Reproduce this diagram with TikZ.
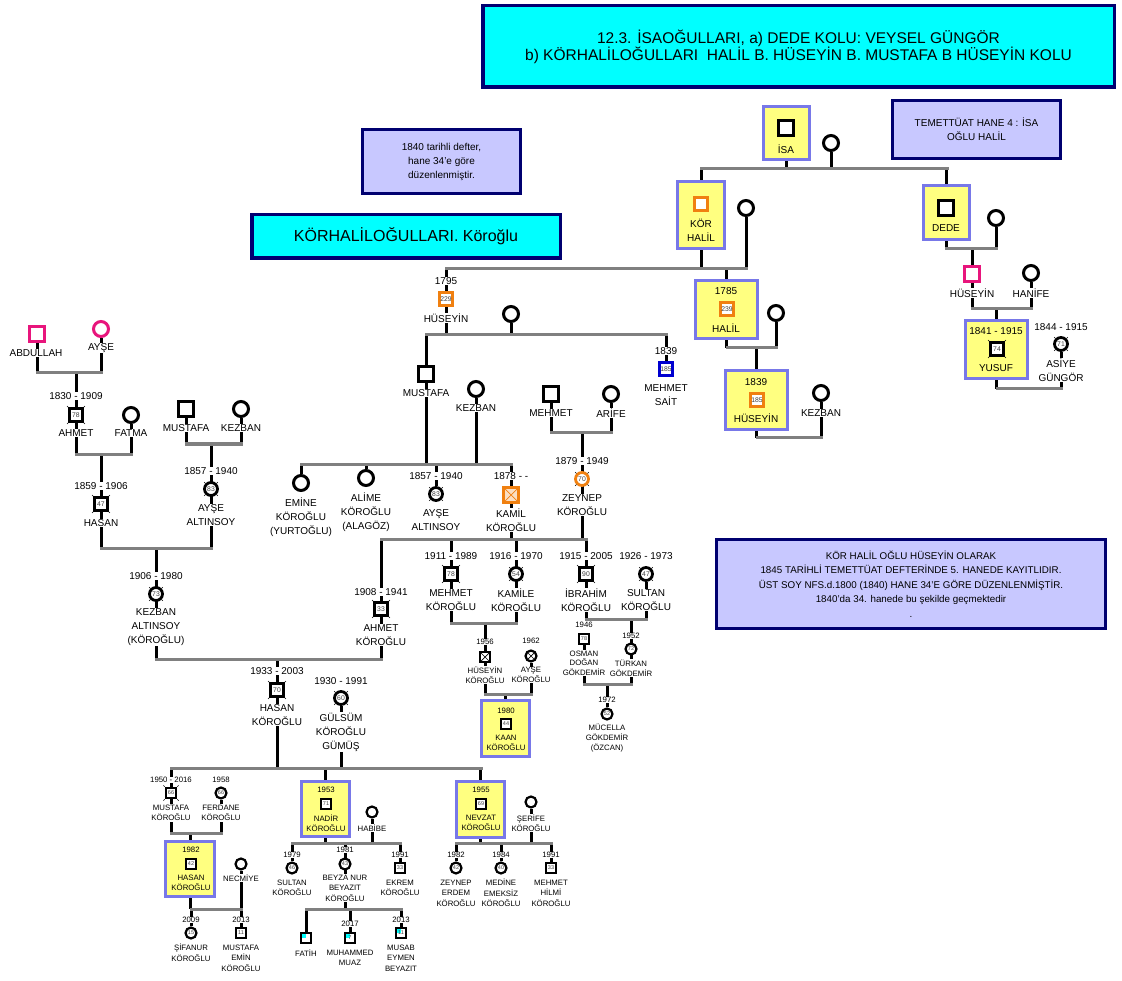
\documentclass[tikz,border=0pt]{standalone}
\usepackage{fontspec}
\setmainfont{Liberation Sans}
\usetikzlibrary{calc}
\pgfdeclarelayer{bg}
\pgfsetlayers{bg,main}
\definecolor{lgray}{HTML}{808080}
\definecolor{yel}{HTML}{FFFF80}
\definecolor{lavb}{HTML}{7878E8}
\definecolor{lavf}{HTML}{C8C8FF}
\definecolor{navy}{HTML}{000070}
\definecolor{cyn}{HTML}{00FFFF}
\definecolor{orng}{HTML}{F08010}
\definecolor{pnk}{HTML}{E8157C}
\definecolor{blu}{HTML}{0000D0}
\definecolor{numc}{HTML}{404040}
\newcommand\fM{\fontsize{10}{14}\selectfont}
\newcommand\fS{\fontsize{7.8}{10.5}\selectfont}
\newcommand\fR{\fontsize{7.8}{9.6}\selectfont}
\newcommand\fN{\fontsize{6.8}{7}\selectfont}
\newcommand\fNs{\fontsize{5.5}{6}\selectfont}
\newcommand\fT{\fontsize{15.5}{17}\selectfont}
\newcommand\fK{\fontsize{16}{18}\selectfont}
\newcommand\fB{\fontsize{10}{14}\selectfont}
\begin{document}
\begin{tikzpicture}[x=1pt,y=-1pt,
  st/.style={black,line width=3pt},
  hl/.style={lgray,line width=3pt,line cap=rect},
  tick/.style={black,line width=0.6pt},
  sym/.style={draw,fill=white,inner sep=0pt,text=numc,font=\fN},
  sq/.style={sym,rectangle,minimum size=15pt,line width=3pt},
  ci/.style={sym,circle,minimum size=15pt,line width=3pt},
  sqn/.style={sym,rectangle,minimum size=12.5pt,line width=2.8pt},
  cin/.style={sym,circle,minimum size=13pt,line width=2.8pt},
  sqs/.style={sym,rectangle,minimum size=10.5pt,line width=2.2pt,font=\fNs},
  cis/.style={sym,circle,minimum size=11pt,line width=2.2pt,font=\fNs},
  nm/.style={fill=white,inner sep=0.6pt,align=center,font=\fM},
  nms/.style={nm,font=\fS},
  nmr/.style={nm,font=\fR},
  ybox/.style={draw=lavb,fill=yel,line width=3pt,rectangle,inner sep=0pt},
  note/.style={draw=navy,fill=lavf,line width=3pt,rectangle,inner sep=0pt,align=center,font=\fB},
  cbox/.style={draw=navy,fill=cyn,line width=3.5pt,rectangle,inner sep=0pt,align=center},
  xmark/.style={path picture={\draw[line width=0.7pt,draw=#1] (path picture bounding box.north west) -- (path picture bounding box.south east) (path picture bounding box.north east) -- (path picture bounding box.south west);}},
  xmark/.default=black,
  cyancorner/.style={path picture={\fill[cyn] (path picture bounding box.north west) rectangle ++(5,5);}}
]
\useasboundingbox (0,0) rectangle (1122,981);
% family line coordinates
\coordinate (fisaL) at (701,169); \coordinate (fisaR) at (947,169);
\coordinate (fkhL) at (446,269); \coordinate (fkhR) at (746,269);
\coordinate (fdeL) at (946,249); \coordinate (fdeR) at (996,249);
\coordinate (fhrL) at (972,309); \coordinate (fhrR) at (1031,309);
\coordinate (fyuL) at (997,389); \coordinate (fyuR) at (1061,389);
\coordinate (fhaL) at (727,348); \coordinate (fhaR) at (776,348);
\coordinate (f39L) at (757,438); \coordinate (f39R) at (821,438);
\coordinate (fhuL) at (426,335); \coordinate (fhuR) at (666,335);
\coordinate (fmaL) at (551,433); \coordinate (fmaR) at (611,433);
\coordinate (fmuL) at (301,464); \coordinate (fmuR) at (511,464);
\coordinate (fkzL) at (381,539); \coordinate (fkzR) at (586,539);
\coordinate (fmkL) at (451,623); \coordinate (fmkR) at (516,623);
\coordinate (fayL) at (485,694); \coordinate (fayR) at (531,694);
\coordinate (fibL) at (586,619); \coordinate (fibR) at (646,619);
\coordinate (fotL) at (584,684); \coordinate (fotR) at (631,684);
\coordinate (fabL) at (37,373); \coordinate (fabR) at (101,373);
\coordinate (fahL) at (76,454); \coordinate (fahR) at (131,454);
\coordinate (fmlL) at (186,444); \coordinate (fmlR) at (241,444);
\coordinate (fh2L) at (101,548); \coordinate (fh2R) at (211,548);
\coordinate (fhkL) at (156,659); \coordinate (fhkR) at (381,659);
\coordinate (fbL) at (171,768); \coordinate (fbR) at (481,768);
\coordinate (fmfL) at (171,833); \coordinate (fmfR) at (221,833);
\coordinate (fhnL) at (191,909); \coordinate (fhnR) at (241,909);
\coordinate (fndL) at (292,843); \coordinate (fndR) at (400,843);
\coordinate (fbzL) at (306,909); \coordinate (fbzR) at (401,909);
\coordinate (fnsL) at (456,843); \coordinate (fnsR) at (551,843);

% boxes
\node[cbox,minimum width=631.5,minimum height=81.5,font=\fT] (title) at (798.5,46.5) {12.3. İSAOĞULLARI, a) DEDE KOLU: VEYSEL GÜNGÖR\\b) KÖRHALİLOĞULLARI\ \ HALİL B. HÜSEYİN B. MUSTAFA B HÜSEYİN KOLU};
\node[note,minimum width=158,minimum height=64] (n1840) at (441.5,162) {1840 tarihli defter,\\hane 34'e göre\\düzenlenmiştir.};
\node[cbox,minimum width=308.5,minimum height=43.5,font=\fK] (kbox) at (406,236.5) {KÖRHALİLOĞULLARI. Köroğlu};
\node[note,minimum width=168,minimum height=58] (ntem) at (976.5,129.5) {TEMETTÜAT HANE 4 : İSA\\OĞLU HALİL};
\node[note,minimum width=389,minimum height=89,font=\fontsize{9.8}{14.5}\selectfont] (nkor) at (911,584) {KÖR HALİL OĞLU HÜSEYİN OLARAK\\1845 TARİHLİ TEMETTÜAT DEFTERİNDE 5. HANEDE KAYITLIDIR.\\ÜST SOY NFS.d.1800 (1840) HANE 34'E GÖRE DÜZENLENMİŞTİR.\\1840'da 34. hanede bu şekilde geçmektedir\\.};

% Isa
\node[ybox,minimum width=46,minimum height=53] (isab) at (786.5,133) {};
\node[sq] (isa) at (786,128) {};
\node[nm,fill=none] (isal) at (786,149) {İSA};
\node[ci] (isaw) at (831,143) {};
% Kor Halil
\node[ybox,minimum width=47,minimum height=67] (khb) at (701,215) {};
\node[sq,draw=orng,minimum size=13] (kh) at (701,204) {};
\node[nm,fill=none] (khl) at (701,230) {KÖR\\HALİL};
\node[ci] (khw) at (746,208) {};
% Dede
\node[ybox,minimum width=46,minimum height=54] (dedeb) at (946.5,212.5) {};
\node[sq] (dede) at (946,208) {};
\node[nm,fill=none] (dedel) at (946,228) {DEDE};
\node[ci] (dedew) at (996,218) {};
% Huseyin (right)
\node[sq,draw=pnk] (husr) at (972,274) {};
\node[nm] (husrl) at (972,293) {HÜSEYİN};
\node[ci] (hanife) at (1031,273) {};
\node[nm] (hanifel) at (1031,293) {HANİFE};
% Yusuf
\node[ybox,minimum width=62,minimum height=58] (yusb) at (996.5,349.5) {};
\node[nm,fill=none] (yusy) at (996,331) {1841 - 1915};
\node[sqn] (yus) at (997,349) {74};
\node[nm,fill=none] (yusl) at (996,368) {YUSUF};
\node[nm] (asiy) at (1061,327) {1844 - 1915};
\node[cin] (asi) at (1061,344) {71};
\node[nm] (asil) at (1061,370) {ASİYE\\GÜNGÖR};
% Halil 1785
\node[ybox,minimum width=62,minimum height=58] (halb) at (726.5,309.5) {};
\node[nm,fill=none] (haly) at (726,291) {1785};
\node[sqn,draw=orng,minimum size=13.5] (hal) at (727,309) {239};
\node[nm,fill=none] (hall) at (726,328) {HALİL};
\node[ci] (halw) at (776,313) {};
% Huseyin 1839
\node[ybox,minimum width=62,minimum height=59] (h39b) at (756.5,400) {};
\node[nm,fill=none] (h39y) at (756,382) {1839};
\node[sqn,draw=orng,minimum size=13.5] (h39) at (757,400) {185};
\node[nm,fill=none] (h39l) at (756,418) {HÜSEYİN};
\node[ci] (kezr) at (821,393) {};
\node[nm] (kezrl) at (821,413) {KEZBAN};
% Huseyin 1795
\node[nm] (h95y) at (446,281) {1795};
\node[sqn,draw=orng,minimum size=13.5] (h95) at (446,299) {229};
\node[nm] (h95l) at (446,318) {HÜSEYİN};
\node[ci] (h95w) at (511,314) {};
% Mustafa, Kezban
\node[sq] (mus) at (426,374) {};
\node[nm] (musl) at (426,393) {MUSTAFA};
\node[ci] (kez) at (476,389) {};
\node[nm] (kezl) at (476,408) {KEZBAN};
% Mehmet Sait
\node[nm] (msy) at (666,351) {1839};
\node[sqn,draw=blu,minimum size=13.5] (ms) at (666,369) {185};
\node[nm] (msl) at (666,395) {MEHMET\\SAİT};
% Mehmet, Arife
\node[sq] (meh) at (551,394) {};
\node[nm] (mehl) at (551,413) {MEHMET};
\node[ci] (ari) at (611,394) {};
\node[nm] (aril) at (611,413) {ARİFE};
% Zeynep
\node[nm] (zeyy) at (582,461) {1879 - 1949};
\node[cin,draw=orng] (zey) at (582,479) {70};
\node[nm] (zeyl) at (582,505) {ZEYNEP\\KÖROĞLU};
% children of Mustafa
\node[ci] (emi) at (301,483) {};
\node[nm] (emil) at (301,517.5) {EMİNE\\KÖROĞLU\\(YURTOĞLU)};
\node[ci] (ali) at (366,478) {};
\node[nm] (alil) at (366,512) {ALİME\\KÖROĞLU\\(ALAGÖZ)};
\node[nm] (ay2y) at (436,476) {1857 - 1940};
\node[cin] (ay2) at (436,494) {83};
\node[nm] (ay2l) at (436,520) {AYŞE\\ALTINSOY};
\node[nm] (kamy) at (511,476) {1878 - -};
\node[sq,draw=orng,fill=orng!25,xmark=orng] (kam) at (511,495) {};
\node[nm] (kaml) at (511,520) {KAMİL\\KÖROĞLU};
% children of Kamil + Zeynep
\node[nm] (ahky) at (381,592) {1908 - 1941};
\node[sqn] (ahk) at (381,609) {33};
\node[nm] (ahkl) at (381,635) {AHMET\\KÖROĞLU};
\node[nm] (mky) at (451,556) {1911 - 1989};
\node[sqn] (mk) at (451,574) {78};
\node[nm] (mkl) at (451,600) {MEHMET\\KÖROĞLU};
\node[nm] (kmly) at (516,556) {1916 - 1970};
\node[cin] (kml) at (516,574) {54};
\node[nm] (kmll) at (516,600) {KAMİLE\\KÖROĞLU};
\node[nm] (iby) at (586,556) {1915 - 2005};
\node[sqn] (ib) at (586,574) {90};
\node[nm] (ibl) at (586,600) {İBRAHİM\\KÖROĞLU};
\node[nm] (suy) at (646,556) {1926 - 1973};
\node[cin] (su) at (646,574) {47};
\node[nm] (sul) at (646,600) {SULTAN\\KÖROĞLU};
% Huseyin 1956, Ayse 1962, Kaan
\node[nmr] (h56y) at (485,642) {1956};
\node[sqs,xmark] (h56) at (485,657) {};
\node[nmr] (h56l) at (485,675) {HÜSEYİN\\KÖROĞLU};
\node[nmr] (a62y) at (531,641) {1962};
\node[cis,xmark] (a62) at (531,656) {};
\node[nmr] (a62l) at (531,675) {AYŞE\\KÖROĞLU};
\node[ybox,minimum width=48,minimum height=56] (kaanb) at (505.5,728.5) {};
\node[nmr,fill=none] (kaany) at (506,711) {1980};
\node[sqs] (kaan) at (506,724) {44};
\node[nmr,fill=none] (kaanl) at (506,743) {KAAN\\KÖROĞLU};
% Osman, Turkan, Mucella
\node[nmr] (osy) at (584,625) {1946};
\node[sqs] (os) at (584,639) {78};
\node[nmr] (osl) at (584,663) {OSMAN\\DOĞAN\\GÖKDEMİR};
\node[nmr] (tuy) at (631,636) {1952};
\node[cis] (tu) at (631,649) {72};
\node[nmr] (tul) at (631,668) {TÜRKAN\\GÖKDEMİR};
\node[nmr] (muy) at (607,700) {1972};
\node[cis] (mu) at (607,714) {52};
\node[nmr] (mul) at (607,738) {MÜCELLA\\GÖKDEMİR\\(ÖZCAN)};
% left family
\node[sq,draw=pnk] (abd) at (37,334) {};
\node[nm] (abdl) at (36,353) {ABDULLAH};
\node[ci,draw=pnk] (ays) at (101,329) {};
\node[nm] (aysl) at (101,348) {AYŞE};
\node[nm] (ahy) at (76,396) {1830 - 1909};
\node[sqn] (ah) at (76,415) {78};
\node[nm] (ahl) at (76,433) {AHMET};
\node[ci] (fat) at (131,415) {};
\node[nm] (fatl) at (131,433) {FATMA};
\node[nm] (hsy) at (101,486) {1859 - 1906};
\node[sqn] (hs) at (101,504) {47};
\node[nm] (hsl) at (101,523) {HASAN};
\node[sq] (musL) at (186,409) {};
\node[nm] (musLl) at (186,428) {MUSTAFA};
\node[ci] (kezL) at (241,409) {};
\node[nm] (kezLl) at (241,428) {KEZBAN};
\node[nm] (ay1y) at (211,471) {1857 - 1940};
\node[cin] (ay1) at (211,489) {83};
\node[nm] (ay1l) at (211,515) {AYŞE\\ALTINSOY};
\node[nm] (kay) at (156,576) {1906 - 1980};
\node[cin] (ka) at (156,594) {73};
\node[nm] (kal) at (156,627) {KEZBAN\\ALTINSOY\\(KÖROĞLU)};
\node[nm] (hky) at (277,671) {1933 - 2003};
\node[sqn] (hk) at (277,690) {70};
\node[nm] (hkl) at (277,715) {HASAN\\KÖROĞLU};
\node[nm] (guy) at (341,681) {1930 - 1991};
\node[cin] (gu) at (341,698) {60};
\node[nm] (gul) at (341,732) {GÜLSÜM\\KÖROĞLU\\GÜMÜŞ};
% bottom generations
\node[nms] (mby) at (171,780) {1950 - 2016};
\node[sqs] (mb) at (171,793) {66};
\node[nms] (mbl) at (171,813) {MUSTAFA\\KÖROĞLU};
\node[nms] (fey) at (221,780) {1958};
\node[cis] (fe) at (221,793) {66};
\node[nms] (fel) at (221,813) {FERDANE\\KÖROĞLU};
\node[ybox,minimum width=49,minimum height=55] (hbb) at (190,869) {};
\node[nms,fill=none] (hby) at (191,850) {1982};
\node[sqs] (hb) at (191,864) {42};
\node[nms,fill=none] (hbl) at (191,883) {HASAN\\KÖROĞLU};
\node[cis] (nec) at (241,864) {};
\node[nms] (necl) at (241,878) {NECMİYE};
\node[nms] (sify) at (191,920) {2009};
\node[cis] (sif) at (191,933) {15};
\node[nms] (sifl) at (191,952.5) {ŞİFANUR\\KÖROĞLU};
\node[nms] (mey) at (241,920) {2013};
\node[sqs] (me) at (241,933) {11};
\node[nms] (mel) at (241,958) {MUSTAFA\\EMİN\\KÖROĞLU};
\node[ybox,minimum width=48,minimum height=55] (nadb) at (325.5,809) {};
\node[nms,fill=none] (nady) at (326,790) {1953};
\node[sqs] (nad) at (326,804) {71};
\node[nms,fill=none] (nadl) at (326,823) {NADİR\\KÖROĞLU};
\node[cis] (hab) at (372,812) {};
\node[nms] (habl) at (372,828) {HABİBE};
\node[nms] (sby) at (292,855) {1979};
\node[cis] (sb) at (292,868) {46};
\node[nms] (sbl) at (292,888) {SULTAN\\KÖROĞLU};
\node[nms] (bzy) at (345,850) {1981};
\node[cis] (bz) at (345,864) {43};
\node[nms] (bzl) at (345,888) {BEYZA NUR\\BEYAZIT\\KÖROĞLU};
\node[nms] (eky) at (400,855) {1991};
\node[sqs] (ek) at (400,868) {33};
\node[nms] (ekl) at (400,888) {EKREM\\KÖROĞLU};
\node[sqs,cyancorner] (fa) at (306,938) {};
\node[nms] (fal) at (306,953) {FATİH};
\node[nms] (muzy) at (350,924) {2017};
\node[sqs,cyancorner] (muz) at (350,938) {7};
\node[nms] (muzl) at (350,958) {MUHAMMED\\MUAZ};
\node[nms] (msby) at (401,920) {2013};
\node[sqs,cyancorner] (msb) at (401,933) {11};
\node[nms] (msbl) at (401,958) {MUSAB\\EYMEN\\BEYAZIT};
\node[ybox,minimum width=48,minimum height=56] (nevb) at (480.5,809.5) {};
\node[nms,fill=none] (nevy) at (481,790) {1955};
\node[sqs] (nev) at (481,804) {69};
\node[nms,fill=none] (nevl) at (481,823) {NEVZAT\\KÖROĞLU};
\node[cis] (ser) at (531,802) {};
\node[nms] (serl) at (531,823) {ŞERİFE\\KÖROĞLU};
\node[nms] (zey2y) at (456,855) {1982};
\node[cis] (zey2) at (456,868) {42};
\node[nms] (zey2l) at (456,893) {ZEYNEP\\ERDEM\\KÖROĞLU};
\node[nms] (medy) at (501,855) {1984};
\node[cis] (med) at (501,868) {40};
\node[nms] (medl) at (501,893) {MEDİNE\\EMEKSİZ\\KÖROĞLU};
\node[nms] (mhy) at (551,855) {1991};
\node[sqs] (mh) at (551,868) {33};
\node[nms] (mhl) at (551,893) {MEHMET\\HİLMİ\\KÖROĞLU};

% deceased ticks
\foreach \n in {yus,asi,ahk,mk,kml,ib,su,zey,ay2,ah,hs,ay1,ka,hk,gu,mb}{
  \foreach \a in {45,135,225,315}{\draw[tick] (\n.\a) -- ++(-\a:1.8);}}

\begin{pgfonlayer}{bg}
\fill[white] (0,0) rectangle (1122,981);
% top right
\draw[st] (isab) -- (isab |- fisaL);
\draw[st] (isaw) -- (isaw |- fisaL);
\draw[st] (khb) -- (khb |- fisaL);
\draw[st] (dedeb) -- (dedeb |- fisaL);
\draw[st] (khb) -- (khb |- fkhL);
\draw[st] (khw) -- (khw |- fkhL);
\draw[st] (halb) -- (halb |- fkhL);
\draw[st] (h95 |- fkhL) -- (h95 |- fhuL);
\draw[st] (dedeb) -- (dedeb |- fdeL);
\draw[st] (dedew) -- (dedew |- fdeL);
\draw[st] (husr) -- (husr |- fdeL);
\draw[st] (husr) -- (husr |- fhrL);
\draw[st] (hanife) -- (hanife |- fhrL);
\draw[st] (yusb) -- (yusb |- fhrL);
\draw[st] (yusb) -- (yusb |- fyuL);
\draw[st] (asi) -- (asi |- fyuL);
\draw[st] (halb) -- (halb |- fhaL);
\draw[st] (halw) -- (halw |- fhaL);
\draw[st] (h39b) -- (h39b |- fhaL);
\draw[st] (h39b) -- (h39b |- f39L);
\draw[st] (kezr) -- (kezr |- f39L);
% middle
\draw[st] (h95w) -- (h95w |- fhuL);
\draw[st] (ms |- fhuL) -- (ms);
\draw[st] (mus |- fhuL) -- (mus |- fmuL);
\draw[st] (kez) -- (kez |- fmuL);
\draw[st] (meh) -- (meh |- fmaL);
\draw[st] (ari) -- (ari |- fmaL);
\draw[st] (zey |- fmaL) -- (zey |- fkzL);
\draw[st] (emi |- fmuL) -- (emi);
\draw[st] (ali |- fmuL) -- (ali);
\draw[st] (ay2 |- fmuL) -- (ay2);
\draw[st] (kam |- fmuL) -- (kam |- fkzL);
\draw[st] (ahk |- fkzL) -- (ahk |- fhkL);
\draw[st] (mk |- fkzL) -- (mk |- fmkL);
\draw[st] (kml |- fkzL) -- (kml |- fmkL);
\draw[st] (ib |- fkzL) -- (ib |- fibL);
\draw[st] (su) -- (su |- fibL);
\draw[st] (h56 |- fmkL) -- (h56 |- fayL);
\draw[st] (a62) -- (a62 |- fayL);
\draw[st] (kaanb) -- (kaanb |- fayL);
\draw[st] (tu |- fibL) -- (tu |- fotL);
\draw[st] (os) -- (os |- fotL);
\draw[st] (mu |- fotL) -- (mu);
% left
\draw[st] (abd) -- (abd |- fabL);
\draw[st] (ays) -- (ays |- fabL);
\draw[st] (ah |- fabL) -- (ah |- fahL);
\draw[st] (fat) -- (fat |- fahL);
\draw[st] (hs |- fahL) -- (hs |- fh2L);
\draw[st] (musL) -- (musL |- fmlL);
\draw[st] (kezL) -- (kezL |- fmlL);
\draw[st] (ay1 |- fmlL) -- (ay1 |- fh2L);
\draw[st] (ka |- fh2L) -- (ka |- fhkL);
\draw[st] (hk |- fhkL) -- (hk |- fbL);
\draw[st] (gu) -- (gu |- fbL);
% bottom
\draw[st] (mb |- fbL) -- (mb |- fmfL);
\draw[st] (fe) -- (fe |- fmfL);
\draw[st] (hbb) -- (hbb |- fmfL);
\draw[st] (hbb) -- (hbb |- fhnL);
\draw[st] (nec) -- (nec |- fhnL);
\draw[st] (sif |- fhnL) -- (sif);
\draw[st] (me |- fhnL) -- (me);
\draw[st] (nadb) -- (nadb |- fbL);
\draw[st] (nadb) -- (nadb |- fndL);
\draw[st] (hab) -- (hab |- fndL);
\draw[st] (sb |- fndL) -- (sb);
\draw[st] (bz |- fndL) -- (bz |- fbzL);
\draw[st] (ek |- fndL) -- (ek);
\draw[st] (fa |- fbzL) -- (fa);
\draw[st] (muz |- fbzL) -- (muz);
\draw[st] (msb |- fbzL) -- (msb);
\draw[st] (nevb) -- (nevb |- fbL);
\draw[st] (nevb) -- (nevb |- fnsL);
\draw[st] (ser) -- (ser |- fnsL);
\draw[st] (zey2 |- fnsL) -- (zey2);
\draw[st] (med |- fnsL) -- (med);
\draw[st] (mh |- fnsL) -- (mh);
% horizontal family lines
\foreach \fm in {fisa,fkh,fde,fhr,fyu,fha,f39,fhu,fma,fmu,fkz,fmk,fay,fib,fot,fab,fah,fml,fh2,fhk,fb,fmf,fhn,fnd,fbz,fns}
  {\draw[hl] (\fm L) -- (\fm R);}
\end{pgfonlayer}
\end{tikzpicture}
\end{document}
